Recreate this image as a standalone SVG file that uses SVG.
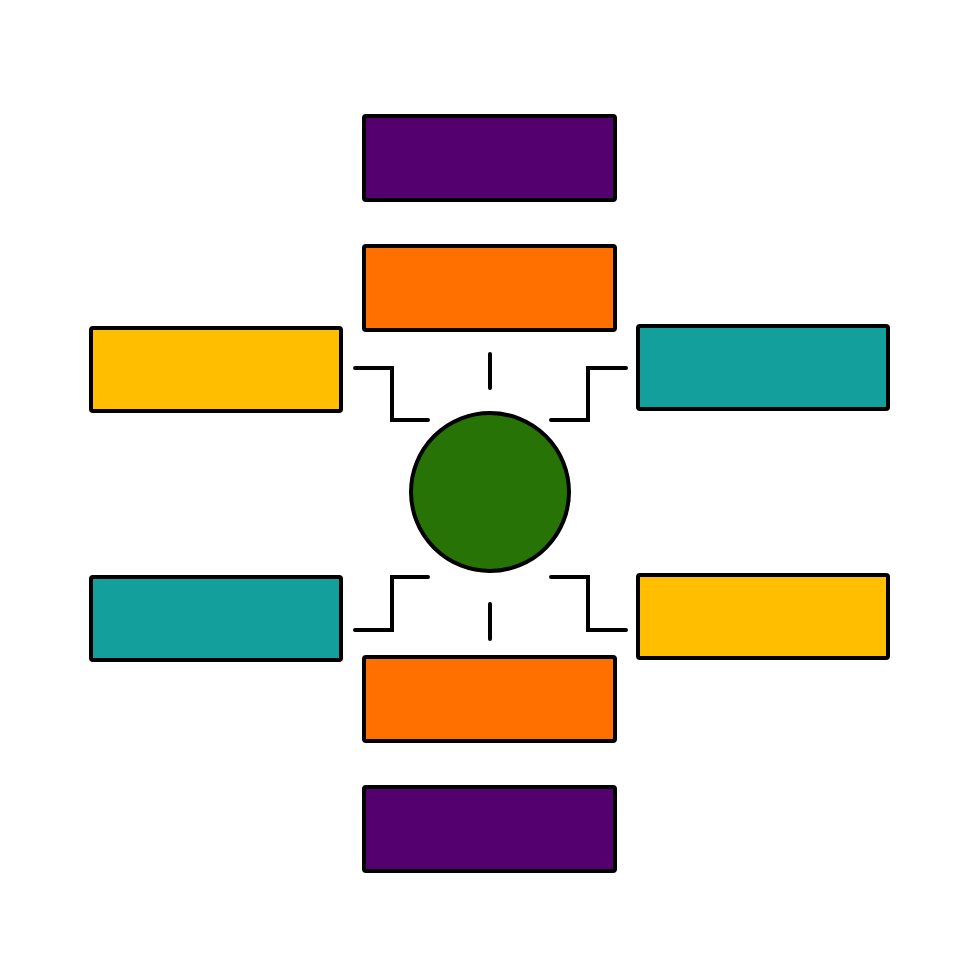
<svg xmlns="http://www.w3.org/2000/svg" width="980" height="980" viewBox="0 0 980 980">
<style>
.box{stroke:#000;stroke-width:4;stroke-linejoin:round}
.c{fill:none;stroke:#000;stroke-width:4;stroke-linecap:round;stroke-linejoin:miter}
</style>
<rect width="980" height="980" fill="#fff"/>
<g id="top-purple"><rect class="box" x="364" y="116" width="251" height="84" rx="2" fill="#54006e"/></g>
<g id="top-orange"><rect class="box" x="364" y="246" width="251" height="84" rx="2" fill="#ff7000"/></g>
<g id="left-yellow"><rect class="box" x="91" y="328" width="250" height="83" rx="2" fill="#ffbf00"/></g>
<g id="right-teal"><rect class="box" x="638" y="326" width="250" height="83" rx="2" fill="#13a09c"/></g>
<g id="left-teal"><rect class="box" x="91" y="577" width="250" height="83" rx="2" fill="#13a09c"/></g>
<g id="right-yellow"><rect class="box" x="638" y="575" width="250" height="83" rx="2" fill="#ffbf00"/></g>
<g id="bottom-orange"><rect class="box" x="364" y="657" width="251" height="84" rx="2" fill="#ff7000"/></g>
<g id="bottom-purple"><rect class="box" x="364" y="787" width="251" height="84" rx="2" fill="#54006e"/></g>
<g id="center"><circle cx="490" cy="492" r="79" fill="#287305" stroke="#000" stroke-width="4"/></g>
<g id="connectors">
<polyline class="c" points="355,368 392,368 392,420 428,420"/>
<line class="c" x1="490" y1="354" x2="490" y2="388"/>
<polyline class="c" points="626,368 588,368 588,420 551,420"/>
<polyline class="c" points="428,577 392,577 392,630 355,630"/>
<line class="c" x1="490" y1="604" x2="490" y2="639"/>
<polyline class="c" points="551,577 588,577 588,630 626,630"/>
</g>
</svg>
